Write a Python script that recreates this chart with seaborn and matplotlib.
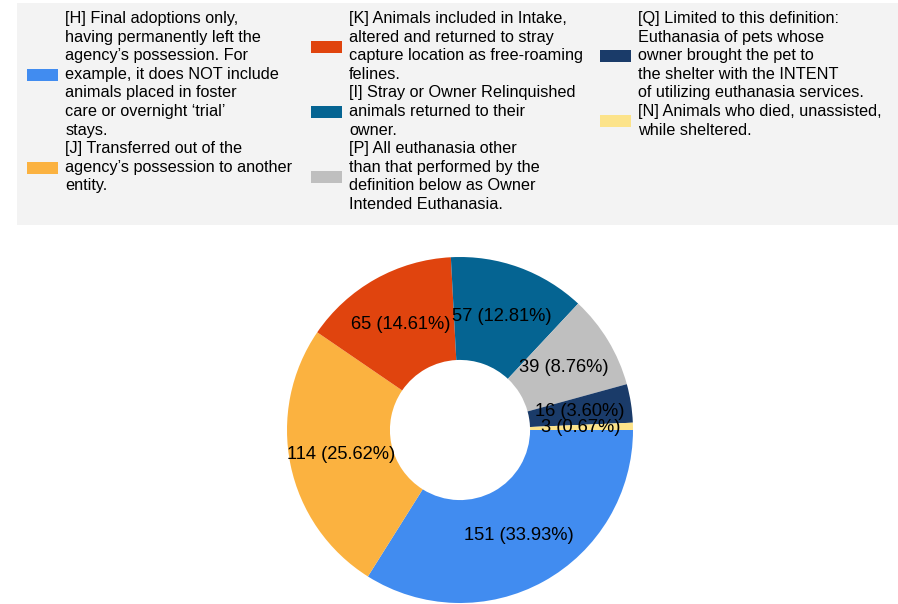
import matplotlib
matplotlib.use("Agg")
import matplotlib.pyplot as plt
import seaborn as sns
from matplotlib.patches import Rectangle, Patch

# -----------------------------
# Data
# -----------------------------
codes = ["H", "J", "K", "I", "P", "Q", "N"]
counts = [151, 114, 65, 57, 39, 16, 3]
descriptions = [
    "[H] Final adoptions only,\nhaving permanently left the\nagency’s possession. For\nexample, it does NOT include\nanimals placed in foster\ncare or overnight ‘trial’\nstays.",
    "[J] Transferred out of the\nagency’s possession to another\nentity.",
    "[K] Animals included in Intake,\naltered and returned to stray\ncapture location as free-roaming\nfelines.",
    "[I] Stray or Owner Relinquished\nanimals returned to their\nowner.",
    "[P] All euthanasia other\nthan that performed by the\ndefinition below as Owner\nIntended Euthanasia.",
    "[Q] Limited to this definition:\nEuthanasia of pets whose\nowner brought the pet to\nthe shelter with the INTENT\nof utilizing euthanasia services.",
    "[N] Animals who died, unassisted,\nwhile sheltered.",
]
colors = ["#418cf0", "#fbb240", "#e0440e", "#056492", "#bfbfbf", "#1a3b69", "#fce38a"]
legend_columns = [[0, 1], [2, 3, 4], [5, 6]]

total = sum(counts)

# -----------------------------
# Style
# -----------------------------
sns.set_theme(style="white")
plt.rcParams["font.family"] = ["Liberation Sans", "DejaVu Sans"]

W, H = 898, 604
fig = plt.figure(figsize=(W / 100, H / 100), dpi=100)

# grey legend panel
fig.patches.append(Rectangle((17 / W, 1 - 225 / H), (W - 17) / W, 222 / H,
                             transform=fig.transFigure, facecolor="#f3f3f3",
                             edgecolor="none", zorder=0))

# -----------------------------
# Donut
# -----------------------------
cx, cy, r = 460, 430, 173
ax = fig.add_axes([(cx - r) / W, (H - cy - r) / H, 2 * r / W, 2 * r / H])


def fmt(p):
    return f"{round(p * total / 100)} ({p:.2f}%)"


wedges, _, autotexts = ax.pie(counts, colors=colors, startangle=0, counterclock=False,
                              autopct=fmt, pctdistance=0.70,
                              wedgeprops=dict(width=0.595, linewidth=0),
                              textprops=dict(fontsize=13.2, color="black"))
ax.set_xlim(-1, 1)
ax.set_ylim(-1, 1)

# -----------------------------
# Legend: three separate columns
# -----------------------------
col_x = [27, 311, 600]
for x, idx in zip(col_x, legend_columns):
    hs = [Patch(facecolor=colors[i], edgecolor="none") for i in idx]
    ls = [descriptions[i] for i in idx]
    leg = fig.legend(hs, ls, loc="upper left",
                     bbox_to_anchor=(x / W, 1 - 11 / H), frameon=False,
                     fontsize=11.7, handlelength=1.9, handleheight=0.75,
                     handletextpad=0.45, labelspacing=0.22,
                     borderaxespad=0, borderpad=0, labelcolor="black")
    for t in leg.get_texts():
        t.set_linespacing(1.3)

fig.savefig("out.png", dpi=100)
